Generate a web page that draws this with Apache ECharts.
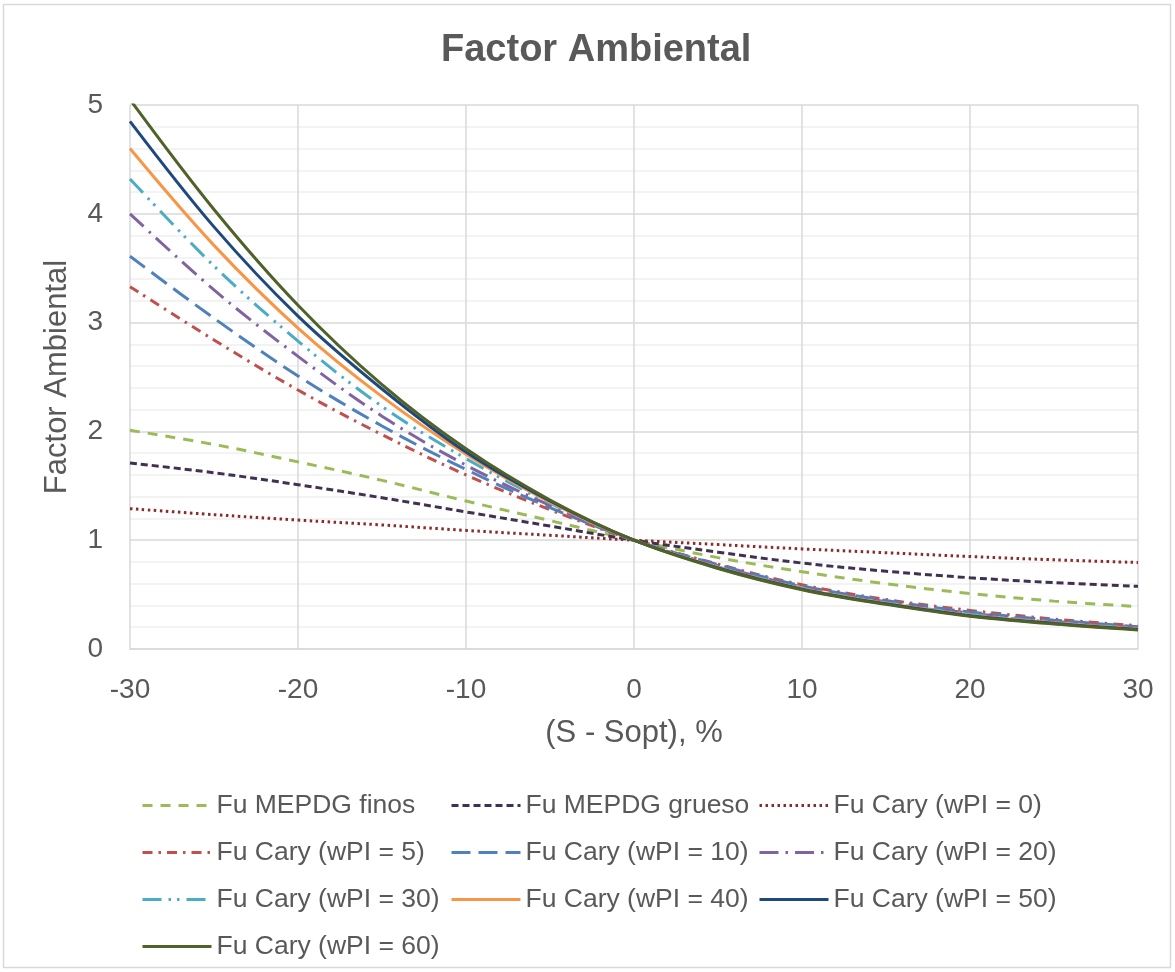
<!DOCTYPE html>
<html>
<head>
<meta charset="utf-8">
<script src="https://cdn.jsdelivr.net/npm/echarts@6/dist/echarts.min.js"></script>
<style>
html,body{margin:0;padding:0;background:#fff;}
#chart{width:1175px;height:972px;}
</style>
</head>
<body>
<div id="chart"></div>
<script>
// x values (S - Sopt), %
const xValues = [-30, -25, -20, -15, -10, -5, 0, 5, 10, 15, 20, 25, 30];

// Series values
const fuMepdgFinos  = [2.01, 1.88, 1.72, 1.55, 1.36, 1.18, 1.00, 0.84, 0.71, 0.60, 0.51, 0.44, 0.39];
const fuMepdgGrueso = [1.71, 1.62, 1.51, 1.39, 1.26, 1.13, 1.00, 0.89, 0.79, 0.715, 0.655, 0.61, 0.576];
const fuCary0  = [1.29, 1.235, 1.185, 1.14, 1.09, 1.045, 1.00, 0.96, 0.92, 0.885, 0.85, 0.82, 0.795];
const fuCary5  = [3.33, 2.84, 2.38, 1.97, 1.60, 1.28, 1.00, 0.78, 0.59, 0.455, 0.355, 0.275, 0.214];
const fuCary10 = [3.61, 3.04, 2.51, 2.05, 1.65, 1.30, 1.00, 0.775, 0.58, 0.445, 0.34, 0.265, 0.205];
const fuCary20 = [4.00, 3.30, 2.69, 2.14, 1.69, 1.32, 1.00, 0.765, 0.57, 0.435, 0.33, 0.255, 0.195];
const fuCary30 = [4.32, 3.52, 2.83, 2.23, 1.75, 1.34, 1.00, 0.755, 0.56, 0.425, 0.32, 0.245, 0.19];
const fuCary40 = [4.60, 3.71, 2.95, 2.32, 1.79, 1.35, 1.00, 0.75, 0.555, 0.42, 0.31, 0.24, 0.183];
const fuCary50 = [4.85, 3.88, 3.06, 2.39, 1.81, 1.36, 1.00, 0.745, 0.55, 0.415, 0.305, 0.235, 0.18];
const fuCary60 = [5.05, 4.04, 3.16, 2.43, 1.84, 1.37, 1.00, 0.74, 0.545, 0.41, 0.30, 0.23, 0.175];

const seriesNames = [
  'Fu MEPDG finos', 'Fu MEPDG grueso', 'Fu Cary (wPI = 0)',
  'Fu Cary (wPI = 5)', 'Fu Cary (wPI = 10)', 'Fu Cary (wPI = 20)',
  'Fu Cary (wPI = 30)', 'Fu Cary (wPI = 40)', 'Fu Cary (wPI = 50)',
  'Fu Cary (wPI = 60)'
];
const seriesValues = [fuMepdgFinos, fuMepdgGrueso, fuCary0, fuCary5, fuCary10, fuCary20, fuCary30, fuCary40, fuCary50, fuCary60];

const styles = [
  {color: '#9BBB59', type: [10, 8]},
  {color: '#403152', type: [7, 4]},
  {color: '#8C2B2B', type: [2.5, 3.5]},
  {color: '#C0504D', type: [10, 6, 2.5, 6]},
  {color: '#4F81BD', type: [19, 8]},
  {color: '#8064A2', type: [19, 7, 2.5, 7]},
  {color: '#4BACC6', type: [19, 7, 2.5, 6, 2.5, 7]},
  {color: '#F79646', type: 'solid'},
  {color: '#1F497D', type: 'solid'},
  {color: '#4F6228', type: 'solid'}
];

const FONT = '"Liberation Sans", Arial, sans-serif';
const TXT = '#595959';

const series = seriesNames.map((name, i) => ({
  name: name,
  type: 'line',
  data: xValues.map((x, j) => [x, seriesValues[i][j]]),
  smooth: 0.35,
  symbol: 'none',
  showSymbol: false,
  clip: true,
  color: styles[i].color,
  lineStyle: {color: styles[i].color, width: 3, type: styles[i].type, cap: 'butt'},
  z: 10 + i
}));

function legendCol(names, left) {
  return {
    orient: 'vertical',
    left: left,
    top: 790,
    padding: 0,
    itemWidth: 69,
    itemHeight: 14,
    itemGap: 16,
    data: names,
    itemStyle: {opacity: 0},
    lineStyle: {width: 3},
    textStyle: {fontFamily: FONT, fontSize: 26.5, color: TXT, lineHeight: 31},
    selectedMode: false
  };
}

const chart = echarts.init(document.getElementById('chart'), null, {renderer: 'canvas'});
chart.setOption({
  animation: false,
  backgroundColor: '#fff',
  title: {
    text: 'Factor Ambiental',
    left: 436,
    top: 27,
    textStyle: {fontFamily: FONT, fontSize: 38, fontWeight: 'bold', color: TXT}
  },
  graphic: [{
    type: 'rect',
    shape: {x: 3.5, y: 4.5, width: 1167, height: 963},
    style: {fill: 'none', stroke: '#d9d9d9', lineWidth: 1.5},
    silent: true
  }],
  legend: [
    legendCol([seriesNames[0], seriesNames[3], seriesNames[6], seriesNames[9]], 141),
    legendCol([seriesNames[1], seriesNames[4], seriesNames[7]], 450),
    legendCol([seriesNames[2], seriesNames[5], seriesNames[8]], 758)
  ],
  grid: {left: 130, right: 37, top: 105, bottom: 323},
  xAxis: {
    type: 'value',
    min: -30, max: 30, interval: 10,
    name: '(S - Sopt), %',
    nameLocation: 'middle',
    nameGap: 69,
    nameTextStyle: {fontFamily: FONT, fontSize: 31, color: TXT},
    axisLine: {show: true, lineStyle: {color: '#d9d9d9', width: 1.5}},
    axisTick: {show: false},
    axisLabel: {fontFamily: FONT, fontSize: 28, color: TXT, margin: 27},
    splitLine: {show: true, lineStyle: {color: '#d9d9d9', width: 1.5}}
  },
  yAxis: {
    type: 'value',
    min: 0, max: 5, interval: 1,
    name: 'Factor Ambiental',
    nameLocation: 'middle',
    nameGap: 57,
    nameTextStyle: {fontFamily: FONT, fontSize: 31, color: TXT},
    axisLine: {show: false},
    axisTick: {show: false},
    axisLabel: {fontFamily: FONT, fontSize: 28, color: TXT, margin: 27},
    splitLine: {show: true, lineStyle: {color: '#d9d9d9', width: 1.5}},
    minorTick: {show: false, splitNumber: 5},
    minorSplitLine: {show: true, lineStyle: {color: '#f0f0f0', width: 1.5}}
  },
  series: series
});
</script>
</body>
</html>
